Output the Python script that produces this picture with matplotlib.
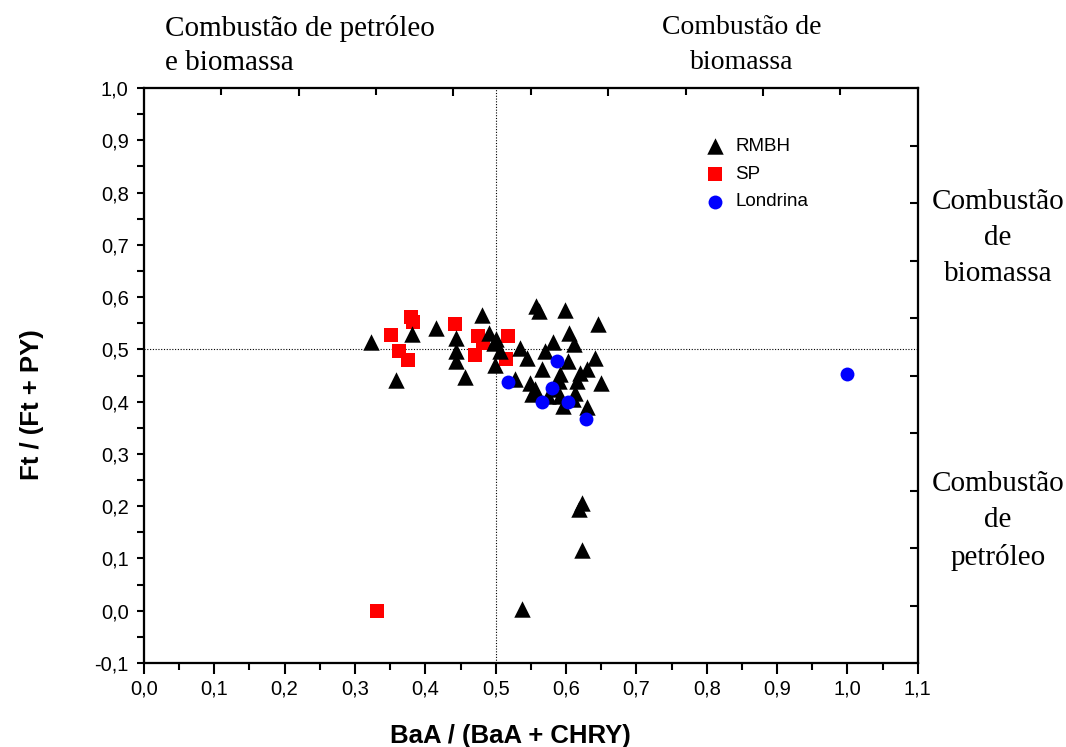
import numpy as np
import matplotlib
matplotlib.use("Agg")
import matplotlib.pyplot as plt
from matplotlib.ticker import MultipleLocator, FuncFormatter

plt.rcParams['font.family'] = ['Liberation Sans', 'DejaVu Sans']

# BaA/(BaA+CHRY) vs Ft/(Ft+PY)
rmbh_x = [0.323, 0.359, 0.381, 0.415, 0.444, 0.444, 0.444, 0.456, 0.481, 0.490,
          0.497, 0.506, 0.499, 0.501, 0.535, 0.544, 0.527, 0.558, 0.561, 0.598,
          0.645, 0.604, 0.582, 0.612, 0.570, 0.641, 0.603, 0.566, 0.592, 0.620,
          0.630, 0.549, 0.649, 0.556, 0.584, 0.615, 0.613, 0.596, 0.630, 0.575,
          0.551, 0.592, 0.610, 0.590, 0.622, 0.618, 0.622, 0.538]
rmbh_y = [0.515, 0.441, 0.530, 0.540, 0.522, 0.497, 0.478, 0.448, 0.565, 0.532,
          0.513, 0.497, 0.471, 0.519, 0.503, 0.484, 0.443, 0.583, 0.573, 0.575,
          0.548, 0.532, 0.514, 0.510, 0.497, 0.484, 0.478, 0.462, 0.452, 0.455,
          0.462, 0.436, 0.435, 0.424, 0.424, 0.439, 0.417, 0.392, 0.389, 0.411,
          0.414, 0.411, 0.405, 0.440, 0.207, 0.194, 0.117, 0.004]

sp_x = [0.379, 0.383, 0.351, 0.362, 0.376, 0.442, 0.475, 0.482, 0.470, 0.517, 0.515, 0.331]
sp_y = [0.561, 0.553, 0.527, 0.497, 0.479, 0.548, 0.525, 0.513, 0.490, 0.525, 0.481, 0.000]

lon_x = [0.587, 0.518, 0.580, 0.566, 0.603, 0.628, 1.000]
lon_y = [0.478, 0.438, 0.427, 0.399, 0.399, 0.367, 0.452]

fig = plt.figure(figsize=(10.66, 7.47), dpi=100)
ax = fig.add_axes([0.135, 0.1124, 0.726, 0.7698])

ax.axvline(0.5, color='black', lw=0.8, ls=(0, (1, 1.5)), zorder=1)
ax.axhline(0.5, color='black', lw=0.8, ls=(0, (1, 1.5)), zorder=1)

ax.scatter(rmbh_x, rmbh_y, marker='^', s=140, color='black', lw=0, label='RMBH', zorder=3)
ax.scatter(sp_x, sp_y, marker='s', s=95, color='#ff0000', lw=0, label='SP', zorder=2)
ax.scatter(lon_x, lon_y, marker='o', s=100, color='#0000ff', lw=0, label='Londrina', zorder=4)

ax.set_xlim(0, 1.1)
ax.set_ylim(-0.1, 1.0)
ax.xaxis.set_major_locator(MultipleLocator(0.1))
ax.xaxis.set_minor_locator(MultipleLocator(0.05))
ax.yaxis.set_major_locator(MultipleLocator(0.1))
ax.yaxis.set_minor_locator(MultipleLocator(0.05))
comma = FuncFormatter(lambda v, p: f"{v:.1f}".replace('.', ',').replace('-0,0', '0,0'))
ax.xaxis.set_major_formatter(comma)
ax.yaxis.set_major_formatter(comma)
ax.tick_params(which='major', direction='out', length=8, width=1.5, labelsize=14.5)
ax.tick_params(which='minor', direction='out', length=5, width=1.5)
ax.tick_params(axis='y', which='both', length=5, pad=6)
for s in ax.spines.values():
    s.set_linewidth(1.5)

ax.set_xlabel('BaA / (BaA + CHRY)', fontsize=18.5, fontweight='bold')
ax.set_ylabel('Ft / (Ft + PY)', fontsize=18.5, fontweight='bold')
ax.xaxis.label.set_va('center')
ax.yaxis.label.set_va('center')
ax.yaxis.label.set_ha('center')
ax.xaxis.set_label_coords(0.474, -0.127)
ax.yaxis.set_label_coords(-0.145, 0.45)

# top and right axes carry their own unlabelled ticks
top = ax.twiny()
top.set_xlim(0, 1)
top.set_xticks(np.arange(0.2, 1.0, 0.2))
top.set_xticks(np.arange(0.1, 1.0, 0.2), minor=True)
top.tick_params(which='major', direction='in', length=6, width=1.5, labeltop=False)
top.tick_params(which='minor', direction='in', length=5, width=1.5)
right = ax.twinx()
right.set_ylim(0, 1)
right.set_yticks(np.arange(0.1, 1.0, 0.1))
right.tick_params(direction='in', length=6, width=1.5, labelright=False)
for s in list(top.spines.values()) + list(right.spines.values()):
    s.set_linewidth(1.5)

leg = ax.legend(loc='upper left', bbox_to_anchor=(0.716, 0.926), frameon=False,
                fontsize=13.5, handlelength=1.0, handletextpad=0.6,
                labelspacing=0.56, borderaxespad=0)

serif = ['Liberation Serif', 'DejaVu Serif']
fig.text(165 / 1066, 1 - 45 / 747, 'Combustão de petróleo\ne biomassa', family=serif,
         fontsize=21, ha='left', va='center', linespacing=1.4)
fig.text(742 / 1066, 1 - 45 / 747, 'Combustão de\nbiomassa', family=serif,
         fontsize=20, ha='center', va='center', linespacing=1.48)
fig.text(998 / 1066, 1 - 238 / 747, 'Combustão\nde\nbiomassa', family=serif,
         fontsize=21, ha='center', va='center', linespacing=1.5)
fig.text(998 / 1066, 1 - 521 / 747, 'Combustão\nde\npetróleo', family=serif,
         fontsize=21, ha='center', va='center', linespacing=1.5)

fig.savefig('out.png', dpi=100)
